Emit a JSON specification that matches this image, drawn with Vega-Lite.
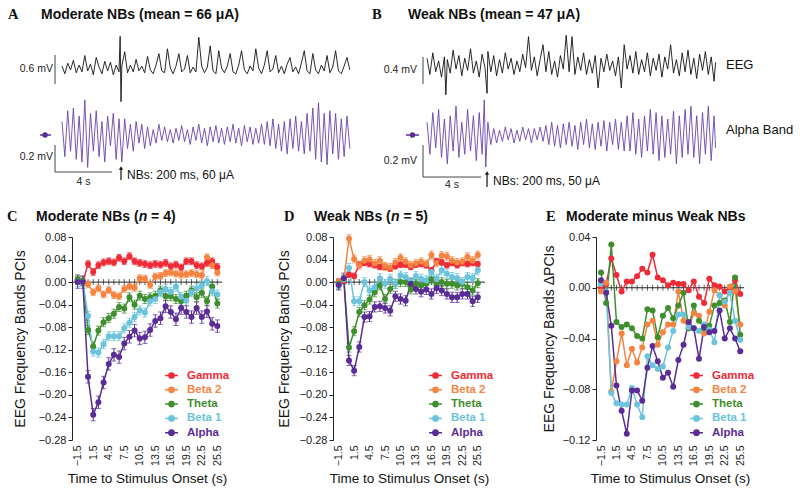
{
  "$schema": "https://vega.github.io/schema/vega-lite/v6.json",
  "padding": {"left": 6, "top": 6, "right": 0, "bottom": 0},
  "background": "white",
  "config": {
    "font": "Liberation Sans",
    "view": {"stroke": null, "fill": null},
    "axis": {"labelColor": "#222", "titleColor": "#111", "domainColor": "#222", "tickColor": "#222", "grid": false, "titleFontWeight": "normal", "labelOverlap": false, "labelFlush": false, "labelBound": false, "tickCount": 30}
  },
  "datasets": {
    "eegA": [{"t":0,"v":0.04},{"t":0.2,"v":-0.12},{"t":0.4,"v":0.1},{"t":0.6,"v":-0.04},{"t":0.8,"v":0.16},{"t":1,"v":-0.1},{"t":1.2,"v":0.06},{"t":1.4,"v":-0.08},{"t":1.6,"v":0.26},{"t":1.8,"v":-0.06},{"t":2,"v":0.08},{"t":2.2,"v":-0.14},{"t":2.4,"v":0.22},{"t":2.6,"v":0.02},{"t":2.8,"v":-0.12},{"t":3,"v":0.14},{"t":3.2,"v":-0.06},{"t":3.4,"v":0.12},{"t":3.6,"v":-0.14},{"t":3.8,"v":0.06},{"t":4,"v":-0.08},{"t":4.08,"v":0.66},{"t":4.14,"v":-0.7},{"t":4.2,"v":0.04},{"t":4.4,"v":0.34},{"t":4.6,"v":-0.1},{"t":4.8,"v":0.06},{"t":5,"v":-0.08},{"t":5.2,"v":0.18},{"t":5.4,"v":-0.06},{"t":5.6,"v":0.04},{"t":5.8,"v":-0.1},{"t":6,"v":0.24},{"t":6.2,"v":-0.04},{"t":6.4,"v":-0.12},{"t":6.6,"v":0.06},{"t":6.8,"v":0.3},{"t":7,"v":-0.06},{"t":7.2,"v":-0.1},{"t":7.4,"v":0.4},{"t":7.6,"v":0},{"t":7.8,"v":-0.12},{"t":8,"v":0.04},{"t":8.2,"v":0.3},{"t":8.4,"v":-0.08},{"t":8.6,"v":-0.02},{"t":8.8,"v":0.26},{"t":9,"v":-0.1},{"t":9.2,"v":0.02},{"t":9.4,"v":-0.08},{"t":9.6,"v":0.64},{"t":9.8,"v":0.04},{"t":10,"v":-0.1},{"t":10.2,"v":0.02},{"t":10.4,"v":0.46},{"t":10.6,"v":-0.06},{"t":10.8,"v":-0.12},{"t":11,"v":0.36},{"t":11.2,"v":0},{"t":11.4,"v":-0.1},{"t":11.6,"v":0.04},{"t":11.8,"v":0.3},{"t":12,"v":-0.08},{"t":12.2,"v":-0.12},{"t":12.4,"v":0.06},{"t":12.6,"v":0.36},{"t":12.8,"v":-0.04},{"t":13,"v":-0.12},{"t":13.2,"v":0.04},{"t":13.4,"v":-0.06},{"t":13.6,"v":0.4},{"t":13.8,"v":0},{"t":14,"v":-0.12},{"t":14.2,"v":0.06},{"t":14.4,"v":0.36},{"t":14.6,"v":-0.08},{"t":14.8,"v":-0.02},{"t":15,"v":0.26},{"t":15.2,"v":-0.1},{"t":15.4,"v":0.04},{"t":15.6,"v":-0.12},{"t":15.8,"v":0.08},{"t":16,"v":0.22},{"t":16.2,"v":-0.08},{"t":16.4,"v":0.02},{"t":16.6,"v":-0.12},{"t":16.8,"v":0.1},{"t":17,"v":0.36},{"t":17.2,"v":-0.06},{"t":17.4,"v":-0.12},{"t":17.6,"v":0.3},{"t":17.8,"v":-0.04},{"t":18,"v":-0.12},{"t":18.2,"v":0.06},{"t":18.4,"v":-0.06},{"t":18.6,"v":0.26},{"t":18.8,"v":-0.1},{"t":19,"v":0.02},{"t":19.2,"v":0.36},{"t":19.4,"v":-0.06},{"t":19.6,"v":-0.12},{"t":19.8,"v":0.04},{"t":20,"v":0.22},{"t":20.2,"v":-0.04}],
    "alphaA": [{"t":0,"v":0.1},{"t":0.2,"v":-0.16},{"t":0.4,"v":0.18},{"t":0.6,"v":-0.12},{"t":0.8,"v":0.2},{"t":1,"v":-0.18},{"t":1.2,"v":0.14},{"t":1.4,"v":-0.2},{"t":1.6,"v":0.26},{"t":1.8,"v":-0.24},{"t":2,"v":0.16},{"t":2.2,"v":-0.12},{"t":2.4,"v":0.18},{"t":2.6,"v":-0.16},{"t":2.8,"v":0.1},{"t":3,"v":-0.2},{"t":3.2,"v":0.14},{"t":3.4,"v":-0.08},{"t":3.6,"v":0.16},{"t":3.8,"v":-0.18},{"t":4,"v":0.12},{"t":4.2,"v":-0.2},{"t":4.4,"v":0.12},{"t":4.6,"v":-0.1},{"t":4.8,"v":0.08},{"t":5,"v":-0.12},{"t":5.2,"v":0.1},{"t":5.4,"v":-0.06},{"t":5.6,"v":0.08},{"t":5.8,"v":-0.1},{"t":6,"v":0.06},{"t":6.2,"v":-0.08},{"t":6.4,"v":0.04},{"t":6.6,"v":-0.06},{"t":6.8,"v":0.08},{"t":7,"v":-0.04},{"t":7.2,"v":0.06},{"t":7.4,"v":-0.05},{"t":7.6,"v":0.04},{"t":7.8,"v":-0.06},{"t":8,"v":0.05},{"t":8.2,"v":-0.04},{"t":8.4,"v":0.07},{"t":8.6,"v":-0.05},{"t":8.8,"v":0.04},{"t":9,"v":-0.07},{"t":9.2,"v":0.06},{"t":9.4,"v":-0.04},{"t":9.6,"v":0.08},{"t":9.8,"v":-0.06},{"t":10,"v":0.05},{"t":10.2,"v":-0.08},{"t":10.4,"v":0.06},{"t":10.6,"v":-0.05},{"t":10.8,"v":0.07},{"t":11,"v":-0.06},{"t":11.2,"v":0.05},{"t":11.4,"v":-0.07},{"t":11.6,"v":0.06},{"t":11.8,"v":-0.05},{"t":12,"v":0.08},{"t":12.2,"v":-0.06},{"t":12.4,"v":0.05},{"t":12.6,"v":-0.08},{"t":12.8,"v":0.07},{"t":13,"v":-0.05},{"t":13.2,"v":0.06},{"t":13.4,"v":-0.07},{"t":13.6,"v":0.05},{"t":13.8,"v":-0.06},{"t":14,"v":0.08},{"t":14.2,"v":-0.07},{"t":14.4,"v":0.1},{"t":14.6,"v":-0.08},{"t":14.8,"v":0.12},{"t":15,"v":-0.1},{"t":15.2,"v":0.08},{"t":15.4,"v":-0.12},{"t":15.6,"v":0.1},{"t":15.8,"v":-0.14},{"t":16,"v":0.12},{"t":16.2,"v":-0.1},{"t":16.4,"v":0.14},{"t":16.6,"v":-0.12},{"t":16.8,"v":0.1},{"t":17,"v":-0.14},{"t":17.2,"v":0.16},{"t":17.4,"v":-0.12},{"t":17.6,"v":0.2},{"t":17.8,"v":-0.18},{"t":18,"v":0.24},{"t":18.2,"v":-0.2},{"t":18.4,"v":0.16},{"t":18.6,"v":-0.22},{"t":18.8,"v":0.18},{"t":19,"v":-0.14},{"t":19.2,"v":0.16},{"t":19.4,"v":-0.18},{"t":19.6,"v":0.12},{"t":19.8,"v":-0.16},{"t":20,"v":0.14},{"t":20.2,"v":-0.1}],
    "eegB": [{"t":0,"v":0.1},{"t":0.2,"v":-0.14},{"t":0.4,"v":0.18},{"t":0.6,"v":-0.1},{"t":0.8,"v":0.06},{"t":1,"v":-0.18},{"t":1.2,"v":0.12},{"t":1.3,"v":-0.44},{"t":1.4,"v":0.08},{"t":1.6,"v":-0.12},{"t":1.8,"v":0.22},{"t":2,"v":-0.06},{"t":2.2,"v":0.14},{"t":2.4,"v":-0.16},{"t":2.6,"v":0.1},{"t":2.8,"v":-0.08},{"t":3,"v":0.24},{"t":3.2,"v":-0.12},{"t":3.4,"v":0.06},{"t":3.6,"v":-0.18},{"t":3.8,"v":0.16},{"t":4,"v":-0.04},{"t":4.14,"v":-0.42},{"t":4.2,"v":0.2},{"t":4.4,"v":-0.1},{"t":4.6,"v":0.14},{"t":4.8,"v":-0.16},{"t":5,"v":0.08},{"t":5.2,"v":-0.12},{"t":5.4,"v":0.18},{"t":5.6,"v":-0.06},{"t":5.8,"v":0.1},{"t":6,"v":-0.14},{"t":6.2,"v":0.06},{"t":6.4,"v":-0.1},{"t":6.6,"v":0.16},{"t":6.8,"v":-0.04},{"t":7,"v":0.42},{"t":7.2,"v":-0.08},{"t":7.4,"v":0.12},{"t":7.6,"v":-0.16},{"t":7.8,"v":0.08},{"t":8,"v":0.3},{"t":8.2,"v":-0.1},{"t":8.4,"v":0.2},{"t":8.6,"v":-0.14},{"t":8.8,"v":0.06},{"t":9,"v":-0.18},{"t":9.2,"v":0.14},{"t":9.4,"v":-0.06},{"t":9.6,"v":0.44},{"t":9.8,"v":-0.1},{"t":10,"v":0.42},{"t":10.2,"v":-0.14},{"t":10.4,"v":0.12},{"t":10.6,"v":-0.08},{"t":10.8,"v":0.18},{"t":11,"v":-0.14},{"t":11.2,"v":0.08},{"t":11.4,"v":-0.12},{"t":11.6,"v":0.14},{"t":11.8,"v":-0.34},{"t":12,"v":0.1},{"t":12.2,"v":-0.1},{"t":12.4,"v":0.16},{"t":12.6,"v":-0.08},{"t":12.8,"v":0.06},{"t":13,"v":-0.16},{"t":13.2,"v":0.12},{"t":13.4,"v":-0.34},{"t":13.6,"v":0.3},{"t":13.8,"v":-0.06},{"t":14,"v":0.14},{"t":14.2,"v":-0.12},{"t":14.4,"v":0.2},{"t":14.6,"v":-0.14},{"t":14.8,"v":0.08},{"t":15,"v":-0.1},{"t":15.2,"v":0.18},{"t":15.4,"v":-0.16},{"t":15.6,"v":0.1},{"t":15.8,"v":-0.08},{"t":16,"v":0.16},{"t":16.2,"v":-0.18},{"t":16.4,"v":0.12},{"t":16.6,"v":-0.06},{"t":16.8,"v":0.3},{"t":17,"v":-0.12},{"t":17.2,"v":0.08},{"t":17.4,"v":-0.16},{"t":17.6,"v":0.18},{"t":17.8,"v":-0.1},{"t":18,"v":0.22},{"t":18.2,"v":-0.14},{"t":18.4,"v":0.1},{"t":18.6,"v":-0.2},{"t":18.8,"v":0.16},{"t":19,"v":-0.08},{"t":19.2,"v":0.2},{"t":19.4,"v":-0.14},{"t":19.6,"v":0.12},{"t":19.8,"v":-0.24},{"t":19.9,"v":0.04}],
    "alphaB": [{"t":0,"v":0.08},{"t":0.2,"v":-0.12},{"t":0.4,"v":0.14},{"t":0.6,"v":-0.08},{"t":0.8,"v":0.16},{"t":1,"v":-0.14},{"t":1.2,"v":0.1},{"t":1.4,"v":-0.18},{"t":1.6,"v":0.12},{"t":1.8,"v":-0.1},{"t":2,"v":0.18},{"t":2.2,"v":-0.14},{"t":2.4,"v":0.08},{"t":2.6,"v":-0.12},{"t":2.8,"v":0.16},{"t":3,"v":-0.1},{"t":3.2,"v":0.12},{"t":3.4,"v":-0.16},{"t":3.6,"v":0.14},{"t":3.8,"v":-0.12},{"t":3.95,"v":0.22},{"t":4.05,"v":-0.2},{"t":4.2,"v":0.08},{"t":4.4,"v":-0.06},{"t":4.6,"v":0.04},{"t":4.8,"v":-0.05},{"t":5,"v":0.03},{"t":5.2,"v":-0.04},{"t":5.4,"v":0.05},{"t":5.6,"v":-0.03},{"t":5.8,"v":0.04},{"t":6,"v":-0.05},{"t":6.2,"v":0.03},{"t":6.4,"v":-0.04},{"t":6.6,"v":0.05},{"t":6.8,"v":-0.03},{"t":7,"v":0.04},{"t":7.2,"v":-0.05},{"t":7.4,"v":0.04},{"t":7.6,"v":-0.03},{"t":7.8,"v":0.05},{"t":8,"v":-0.04},{"t":8.2,"v":0.06},{"t":8.4,"v":-0.06},{"t":8.6,"v":0.08},{"t":8.8,"v":-0.07},{"t":9,"v":0.06},{"t":9.2,"v":-0.08},{"t":9.4,"v":0.07},{"t":9.6,"v":-0.06},{"t":9.8,"v":0.08},{"t":10,"v":-0.07},{"t":10.2,"v":0.06},{"t":10.4,"v":-0.09},{"t":10.6,"v":0.08},{"t":10.8,"v":-0.06},{"t":11,"v":0.1},{"t":11.2,"v":-0.08},{"t":11.4,"v":0.07},{"t":11.6,"v":-0.09},{"t":11.8,"v":0.08},{"t":12,"v":-0.07},{"t":12.2,"v":0.09},{"t":12.4,"v":-0.1},{"t":12.6,"v":0.08},{"t":12.8,"v":-0.06},{"t":13,"v":0.1},{"t":13.2,"v":-0.09},{"t":13.4,"v":0.08},{"t":13.6,"v":-0.1},{"t":13.8,"v":0.12},{"t":14,"v":-0.1},{"t":14.2,"v":0.14},{"t":14.4,"v":-0.12},{"t":14.6,"v":0.1},{"t":14.8,"v":-0.14},{"t":15,"v":0.12},{"t":15.2,"v":-0.1},{"t":15.4,"v":0.16},{"t":15.6,"v":-0.12},{"t":15.8,"v":0.14},{"t":16,"v":-0.16},{"t":16.2,"v":0.12},{"t":16.4,"v":-0.14},{"t":16.6,"v":0.1},{"t":16.8,"v":-0.12},{"t":17,"v":0.15},{"t":17.2,"v":-0.18},{"t":17.4,"v":0.12},{"t":17.6,"v":-0.14},{"t":17.8,"v":0.16},{"t":18,"v":-0.12},{"t":18.2,"v":0.18},{"t":18.4,"v":-0.14},{"t":18.6,"v":0.12},{"t":18.8,"v":-0.18},{"t":19,"v":0.14},{"t":19.2,"v":-0.12},{"t":19.4,"v":0.18},{"t":19.6,"v":-0.16},{"t":19.8,"v":0.12},{"t":19.9,"v":-0.08}],
    "wideC": [
      {"t":-1.5,"Gamma":0.002,"Beta 2":0.003,"Theta":0.005,"Beta 1":0,"Alpha":0},
      {"t":-0.5,"Gamma":0,"Beta 2":0,"Theta":0.002,"Beta 1":0,"Alpha":0},
      {"t":0.5,"Gamma":0.032,"Beta 2":-0.004,"Theta":-0.085,"Beta 1":-0.06,"Alpha":-0.168},
      {"t":1.5,"Gamma":0.018,"Beta 2":-0.018,"Theta":-0.114,"Beta 1":-0.123,"Alpha":-0.235},
      {"t":2.5,"Gamma":0.03,"Beta 2":-0.011,"Theta":-0.086,"Beta 1":-0.125,"Alpha":-0.213},
      {"t":3.5,"Gamma":0.035,"Beta 2":-0.022,"Theta":-0.071,"Beta 1":-0.11,"Alpha":-0.178},
      {"t":4.5,"Gamma":0.037,"Beta 2":-0.014,"Theta":-0.064,"Beta 1":-0.096,"Alpha":-0.145},
      {"t":5.5,"Gamma":0.035,"Beta 2":-0.023,"Theta":-0.056,"Beta 1":-0.096,"Alpha":-0.129},
      {"t":6.5,"Gamma":0.043,"Beta 2":-0.025,"Theta":-0.044,"Beta 1":-0.096,"Alpha":-0.133},
      {"t":7.5,"Gamma":0.037,"Beta 2":-0.012,"Theta":-0.047,"Beta 1":-0.082,"Alpha":-0.109},
      {"t":8.5,"Gamma":0.046,"Beta 2":-0.008,"Theta":-0.027,"Beta 1":-0.072,"Alpha":-0.097},
      {"t":9.5,"Gamma":0.037,"Beta 2":-0.01,"Theta":-0.04,"Beta 1":-0.062,"Alpha":-0.086},
      {"t":10.5,"Gamma":0.034,"Beta 2":0.007,"Theta":-0.024,"Beta 1":-0.05,"Alpha":-0.1},
      {"t":11.5,"Gamma":0.032,"Beta 2":0.006,"Theta":-0.03,"Beta 1":-0.054,"Alpha":-0.098},
      {"t":12.5,"Gamma":0.03,"Beta 2":-0.005,"Theta":-0.027,"Beta 1":-0.034,"Alpha":-0.085},
      {"t":13.5,"Gamma":0.032,"Beta 2":0.01,"Theta":-0.024,"Beta 1":-0.03,"Alpha":-0.069},
      {"t":14.5,"Gamma":0.031,"Beta 2":0.011,"Theta":-0.015,"Beta 1":-0.018,"Alpha":-0.064},
      {"t":15.5,"Gamma":0.034,"Beta 2":0.016,"Theta":-0.025,"Beta 1":-0.012,"Alpha":-0.043},
      {"t":16.5,"Gamma":0.028,"Beta 2":0.017,"Theta":-0.025,"Beta 1":-0.017,"Alpha":-0.053},
      {"t":17.5,"Gamma":0.031,"Beta 2":0.015,"Theta":-0.03,"Beta 1":-0.008,"Alpha":-0.066},
      {"t":18.5,"Gamma":0.026,"Beta 2":0.013,"Theta":-0.034,"Beta 1":-0.026,"Alpha":-0.046},
      {"t":19.5,"Gamma":0.037,"Beta 2":0.014,"Theta":-0.024,"Beta 1":-0.033,"Alpha":-0.053},
      {"t":20.5,"Gamma":0.037,"Beta 2":0.016,"Theta":-0.015,"Beta 1":-0.018,"Alpha":-0.062},
      {"t":21.5,"Gamma":0.03,"Beta 2":0.014,"Theta":-0.027,"Beta 1":-0.011,"Alpha":-0.046},
      {"t":22.5,"Gamma":0.028,"Beta 2":0.012,"Theta":-0.019,"Beta 1":-0.006,"Alpha":-0.062},
      {"t":23.5,"Gamma":0.034,"Beta 2":0.044,"Theta":-0.034,"Beta 1":0.002,"Alpha":-0.052},
      {"t":24.5,"Gamma":0.037,"Beta 2":0.03,"Theta":-0.008,"Beta 1":-0.016,"Alpha":-0.074},
      {"t":25.5,"Gamma":0.027,"Beta 2":0.017,"Theta":-0.038,"Beta 1":-0.022,"Alpha":-0.078}
    ],
    "errC": [{"s":"Gamma","e":0.006},{"s":"Beta 2","e":0.006},{"s":"Theta","e":0.008},{"s":"Beta 1","e":0.008},{"s":"Alpha","e":0.011}],
    "wideD": [
      {"t":-1.5,"Gamma":0,"Beta 2":0,"Theta":-0.003,"Beta 1":-0.005,"Alpha":-0.005},
      {"t":-0.5,"Gamma":0.003,"Beta 2":0.004,"Theta":0.005,"Beta 1":0.005,"Alpha":0.007},
      {"t":0.5,"Gamma":0.013,"Beta 2":0.077,"Theta":-0.116,"Beta 1":0.025,"Alpha":-0.139},
      {"t":1.5,"Gamma":0.011,"Beta 2":0.041,"Theta":-0.087,"Beta 1":-0.034,"Alpha":-0.157},
      {"t":2.5,"Gamma":0.031,"Beta 2":0.03,"Theta":-0.053,"Beta 1":-0.034,"Alpha":-0.115},
      {"t":3.5,"Gamma":0.034,"Beta 2":0.038,"Theta":-0.041,"Beta 1":0,"Alpha":-0.062},
      {"t":4.5,"Gamma":0.032,"Beta 2":0.04,"Theta":-0.031,"Beta 1":-0.015,"Alpha":-0.061},
      {"t":5.5,"Gamma":0.03,"Beta 2":0.033,"Theta":-0.018,"Beta 1":-0.009,"Alpha":-0.044},
      {"t":6.5,"Gamma":0.027,"Beta 2":0.038,"Theta":-0.006,"Beta 1":0.007,"Alpha":-0.043},
      {"t":7.5,"Gamma":0.027,"Beta 2":0.028,"Theta":-0.03,"Beta 1":-0.003,"Alpha":-0.046},
      {"t":8.5,"Gamma":0.024,"Beta 2":0.026,"Theta":-0.012,"Beta 1":0.006,"Alpha":-0.051},
      {"t":9.5,"Gamma":0.028,"Beta 2":0.035,"Theta":-0.003,"Beta 1":-0.003,"Alpha":-0.025},
      {"t":10.5,"Gamma":0.031,"Beta 2":0.043,"Theta":0,"Beta 1":0.012,"Alpha":-0.03},
      {"t":11.5,"Gamma":0.031,"Beta 2":0.036,"Theta":0,"Beta 1":0.009,"Alpha":-0.033},
      {"t":12.5,"Gamma":0.027,"Beta 2":0.03,"Theta":-0.013,"Beta 1":0,"Alpha":-0.003},
      {"t":13.5,"Gamma":0.031,"Beta 2":0.033,"Theta":-0.003,"Beta 1":0.011,"Alpha":-0.012},
      {"t":14.5,"Gamma":0.032,"Beta 2":0.036,"Theta":-0.006,"Beta 1":0.006,"Alpha":-0.017},
      {"t":15.5,"Gamma":0.03,"Beta 2":0.032,"Theta":-0.003,"Beta 1":0.003,"Alpha":-0.013},
      {"t":16.5,"Gamma":0.021,"Beta 2":0.048,"Theta":0.005,"Beta 1":0.018,"Alpha":-0.021},
      {"t":17.5,"Gamma":0.037,"Beta 2":0.034,"Theta":-0.005,"Beta 1":0.006,"Alpha":-0.011},
      {"t":18.5,"Gamma":0.035,"Beta 2":0.047,"Theta":0,"Beta 1":0.021,"Alpha":-0.015},
      {"t":19.5,"Gamma":0.03,"Beta 2":0.046,"Theta":-0.003,"Beta 1":0.015,"Alpha":-0.021},
      {"t":20.5,"Gamma":0.034,"Beta 2":0.038,"Theta":-0.003,"Beta 1":0.009,"Alpha":-0.027},
      {"t":21.5,"Gamma":0.03,"Beta 2":0.035,"Theta":-0.006,"Beta 1":0.007,"Alpha":-0.027},
      {"t":22.5,"Gamma":0.034,"Beta 2":0.036,"Theta":-0.003,"Beta 1":0,"Alpha":-0.021},
      {"t":23.5,"Gamma":0.032,"Beta 2":0.045,"Theta":-0.009,"Beta 1":0.009,"Alpha":-0.021},
      {"t":24.5,"Gamma":0.034,"Beta 2":0.038,"Theta":-0.015,"Beta 1":0.007,"Alpha":-0.034},
      {"t":25.5,"Gamma":0.032,"Beta 2":0.048,"Theta":-0.002,"Beta 1":0.021,"Alpha":-0.027}
    ],
    "errD": [{"s":"Gamma","e":0.005},{"s":"Beta 2","e":0.007},{"s":"Theta","e":0.008},{"s":"Beta 1","e":0.008},{"s":"Alpha","e":0.009}],
    "wideE": [
      {"t":-1.5,"Gamma":0,"Beta 2":-0.003,"Theta":0.012,"Beta 1":0.003,"Alpha":0.006},
      {"t":-0.5,"Gamma":0.003,"Beta 2":0.004,"Theta":-0.012,"Beta 1":-0.003,"Alpha":-0.004},
      {"t":0.5,"Gamma":0.023,"Beta 2":-0.082,"Theta":0.034,"Beta 1":-0.083,"Alpha":-0.03},
      {"t":1.5,"Gamma":0.01,"Beta 2":-0.058,"Theta":-0.027,"Beta 1":-0.091,"Alpha":-0.077},
      {"t":2.5,"Gamma":-0.003,"Beta 2":-0.036,"Theta":-0.031,"Beta 1":-0.092,"Alpha":-0.097},
      {"t":3.5,"Gamma":0.005,"Beta 2":-0.061,"Theta":-0.029,"Beta 1":-0.092,"Alpha":-0.115},
      {"t":4.5,"Gamma":0.005,"Beta 2":-0.048,"Theta":-0.032,"Beta 1":-0.079,"Alpha":-0.081},
      {"t":5.5,"Gamma":0.009,"Beta 2":-0.059,"Theta":-0.038,"Beta 1":-0.092,"Alpha":-0.081},
      {"t":6.5,"Gamma":0.015,"Beta 2":-0.047,"Theta":-0.04,"Beta 1":-0.102,"Alpha":-0.089},
      {"t":7.5,"Gamma":0.012,"Beta 2":-0.029,"Theta":-0.017,"Beta 1":-0.054,"Alpha":-0.063},
      {"t":8.5,"Gamma":0.026,"Beta 2":-0.026,"Theta":-0.018,"Beta 1":-0.061,"Alpha":-0.046},
      {"t":9.5,"Gamma":0.008,"Beta 2":-0.045,"Theta":-0.039,"Beta 1":-0.064,"Alpha":-0.058},
      {"t":10.5,"Gamma":0.006,"Beta 2":-0.035,"Theta":-0.022,"Beta 1":-0.062,"Alpha":-0.071},
      {"t":11.5,"Gamma":0.002,"Beta 2":-0.029,"Theta":-0.016,"Beta 1":-0.047,"Alpha":-0.067},
      {"t":12.5,"Gamma":0.004,"Beta 2":-0.029,"Theta":-0.024,"Beta 1":-0.034,"Alpha":-0.078},
      {"t":13.5,"Gamma":0.003,"Beta 2":-0.003,"Theta":-0.014,"Beta 1":-0.021,"Alpha":-0.057},
      {"t":14.5,"Gamma":0.003,"Beta 2":-0.026,"Theta":-0.004,"Beta 1":-0.021,"Alpha":-0.045},
      {"t":15.5,"Gamma":-0.002,"Beta 2":-0.032,"Theta":-0.032,"Beta 1":-0.031,"Alpha":-0.027},
      {"t":16.5,"Gamma":0.005,"Beta 2":-0.02,"Theta":-0.014,"Beta 1":-0.032,"Alpha":-0.032},
      {"t":17.5,"Gamma":-0.007,"Beta 2":-0.022,"Theta":-0.026,"Beta 1":-0.034,"Alpha":-0.056},
      {"t":18.5,"Gamma":-0.012,"Beta 2":-0.036,"Theta":-0.032,"Beta 1":-0.029,"Alpha":-0.031},
      {"t":19.5,"Gamma":0.007,"Beta 2":-0.019,"Theta":-0.03,"Beta 1":-0.033,"Alpha":-0.035},
      {"t":20.5,"Gamma":0.002,"Beta 2":-0.002,"Theta":-0.014,"Beta 1":-0.043,"Alpha":-0.034},
      {"t":21.5,"Gamma":0.001,"Beta 2":-0.006,"Theta":-0.012,"Beta 1":-0.006,"Alpha":-0.018},
      {"t":22.5,"Gamma":-0.003,"Beta 2":-0.014,"Theta":-0.01,"Beta 1":-0.011,"Alpha":-0.04},
      {"t":23.5,"Gamma":0,"Beta 2":0.001,"Theta":-0.027,"Beta 1":-0.004,"Alpha":-0.032},
      {"t":24.5,"Gamma":0.006,"Beta 2":-0.003,"Theta":0.008,"Beta 1":-0.026,"Alpha":-0.04},
      {"t":25.5,"Gamma":-0.005,"Beta 2":-0.029,"Theta":-0.037,"Beta 1":-0.041,"Alpha":-0.05}
    ]
  },
  "spacing": 111,
  "bounds": "flush",
  "resolve": {"scale": {"color": "independent"}, "legend": {"color": "independent"}},
  "hconcat": [
    {
      "width": 150, "height": 203,
      "resolve": {"scale": {"x": "independent", "y": "independent"}},
      "layer": [
        {
          "data": {"name": "wideC"},
          "transform": [
            {"fold": ["Gamma", "Beta 2", "Theta", "Beta 1", "Alpha"], "as": ["s", "v"]},
            {"lookup": "s", "from": {"data": {"name": "errC"}, "key": "s", "fields": ["e"]}}
          ],
          "layer": [
            {"data": {"values": [{}]}, "mark": {"type": "rule", "color": "#222", "strokeWidth": 1}, "encoding": {"y": {"datum": 0}}},
            {"transform": [{"filter": "datum.s === 'Gamma'"}], "mark": {"type": "tick", "orient": "vertical", "color": "#222", "size": 6, "thickness": 1}, "encoding": {"x": {"field": "t", "type": "quantitative"}, "y": {"datum": 0}}},
            {
              "encoding": {
                "x": {"field": "t", "type": "quantitative", "scale": {"domain": [-2.6, 26.4], "nice": false, "zero": false}, "axis": {"values": [-1.5, 1.5, 4.5, 7.5, 10.5, 13.5, 16.5, 19.5, 22.5, 25.5], "tickCount": 30, "format": ".1f", "labelAngle": -90, "labelFontSize": 10.5, "labelPadding": 5, "labelOverlap": false, "ticks": false, "domain": false, "title": "Time to Stimulus Onset (s)", "titleFontSize": 13.5, "titlePadding": 6}},
                "y": {"field": "v", "type": "quantitative", "scale": {"domain": [-0.28, 0.08], "nice": false, "zero": false}, "axis": {"values": [-0.28, -0.24, -0.2, -0.16, -0.12, -0.08, -0.04, 0, 0.04, 0.08], "tickCount": 30, "format": ".2f", "labelOverlap": false, "title": "EEG Frequency Bands PCIs", "titleFontSize": 14, "titlePadding": 11, "labelFontSize": 11, "tickSize": 4, "labelPadding": 2}},
                "color": {"field": "s", "type": "nominal", "scale": {"domain": ["Gamma", "Beta 2", "Theta", "Beta 1", "Alpha"], "range": ["#ee2b36", "#f58442", "#3f8e2f", "#6bc4dc", "#5a2d96"]},
                  "legend": {"orient": "none", "legendX": 92, "legendY": 131, "title": null, "symbolType": "M-1,0H1M-0.4,0A0.4,0.4,0,1,1,0.4,0A0.4,0.4,0,1,1,-0.4,0Z", "symbolSize": 169, "symbolStrokeWidth": 1.5, "symbolOpacity": 1, "symbolStrokeColor": {"expr": "datum.label === 'Gamma' ? '#ee2b36' : datum.label === 'Beta 2' ? '#f58442' : datum.label === 'Theta' ? '#3f8e2f' : datum.label === 'Beta 1' ? '#6bc4dc' : '#5a2d96'"}, "symbolFillColor": {"expr": "datum.label === 'Gamma' ? '#ee2b36' : datum.label === 'Beta 2' ? '#f58442' : datum.label === 'Theta' ? '#3f8e2f' : datum.label === 'Beta 1' ? '#6bc4dc' : '#5a2d96'"}, "labelFontSize": 11.5, "labelFontWeight": "bold", "labelColor": {"expr": "datum.label === 'Gamma' ? '#ee2b36' : datum.label === 'Beta 2' ? '#f58442' : datum.label === 'Theta' ? '#3f8e2f' : datum.label === 'Beta 1' ? '#6bc4dc' : '#5a2d96'"}, "rowPadding": 0.3, "labelOffset": 8, "padding": 0}}
              },
              "layer": [
                {"mark": {"type": "errorbar", "thickness": 1, "ticks": {"size": 5}}, "encoding": {"yError": {"field": "e"}}},
                {"mark": {"type": "line", "strokeWidth": 1.5}},
                {"mark": {"type": "point", "filled": true, "size": 36, "opacity": 1}}
              ]
            },
            {"data": {"values": [{}]}, "mark": {"type": "text", "text": "C", "align": "left", "baseline": "middle", "fontSize": 14.5, "font": "Liberation Serif", "fontWeight": "bold", "color": "#111"}, "encoding": {"x": {"datum": -15.17}, "y": {"datum": 0.1155}}},
            {"data": {"values": [{}]}, "mark": {"type": "text", "text": "Moderate NBs (", "align": "left", "baseline": "middle", "fontSize": 14, "fontWeight": "bold", "color": "#111"}, "encoding": {"x": {"datum": -9.56}, "y": {"datum": 0.1155}}},
            {"data": {"values": [{}]}, "mark": {"type": "text", "text": "n", "align": "left", "baseline": "middle", "dx": 102.7, "fontSize": 14, "fontWeight": "bold", "fontStyle": "italic", "color": "#111"}, "encoding": {"x": {"datum": -9.56}, "y": {"datum": 0.1155}}},
            {"data": {"values": [{}]}, "mark": {"type": "text", "text": "= 4)", "align": "left", "baseline": "middle", "dx": 115.1, "fontSize": 14, "fontWeight": "bold", "color": "#111"}, "encoding": {"x": {"datum": -9.56}, "y": {"datum": 0.1155}}}
          ]
        },
        {"layer": [
          {"data": {"name": "eegA"}, "mark": {"type": "line", "color": "#111", "strokeWidth": 0.9}, "encoding": {"x": {"field": "t", "type": "quantitative", "scale": {"domain": [-3.86, 51.86], "range": [-65, 729], "nice": false, "zero": false}, "axis": null}, "y": {"field": "v", "type": "quantitative", "scale": {"domain": [-2.583, 1.375], "range": [-45, -235], "nice": false, "zero": false}, "axis": null}}},
          {"data": {"values": [{}]}, "mark": {"type": "rule", "color": "#444", "strokeWidth": 1}, "encoding": {"x": {"datum": -0.49, "axis": null}, "y": {"datum": 0.271, "axis": null}, "y2": {"datum": -0.333}}},
          {"data": {"values": [{}]}, "mark": {"type": "text", "text": "0.6 mV", "align": "right", "baseline": "middle", "fontSize": 10.5, "color": "#222"}, "encoding": {"x": {"datum": -0.63, "axis": null}, "y": {"datum": -0.02, "axis": null}}},
          {"data": {"values": [{}]}, "mark": {"type": "text", "text": "A", "align": "left", "baseline": "middle", "fontSize": 14.5, "font": "Liberation Serif", "fontWeight": "bold", "color": "#111"}, "encoding": {"x": {"datum": -3.79, "axis": null}, "y": {"datum": 1.104, "axis": null}}},
          {"data": {"values": [{}]}, "mark": {"type": "text", "text": "Moderate NBs (mean = 66 μA)", "align": "left", "baseline": "middle", "fontSize": 14, "fontWeight": "bold", "color": "#111"}, "encoding": {"x": {"datum": -1.474, "axis": null}, "y": {"datum": 1.104, "axis": null}}}
        ]},
        {"layer": [
          {"data": {"name": "alphaA"}, "mark": {"type": "line", "color": "#6a44aa", "strokeWidth": 0.9}, "encoding": {"x": {"field": "t", "type": "quantitative", "scale": {"domain": [-3.86, 51.86], "range": [-65, 729], "nice": false, "zero": false}, "axis": null}, "y": {"field": "v", "type": "quantitative", "scale": {"domain": [-0.422, 0.985], "range": [-45, -235], "nice": false, "zero": false}, "axis": null}}},
          {"data": {"values": [{}]}, "mark": {"type": "rule", "color": "#5a2d96", "strokeWidth": 1.5}, "encoding": {"x": {"datum": -1.54, "axis": null}, "x2": {"datum": -0.77}, "y": {"datum": 0, "axis": null}}},
          {"data": {"values": [{}]}, "mark": {"type": "point", "shape": "circle", "filled": true, "color": "#5a2d96", "size": 30, "opacity": 1}, "encoding": {"x": {"datum": -1.19, "axis": null}, "y": {"datum": 0, "axis": null}}},
          {"data": {"values": [{}]}, "mark": {"type": "rule", "color": "#444", "strokeWidth": 1}, "encoding": {"x": {"datum": -0.49, "axis": null}, "y": {"datum": -0.074, "axis": null}, "y2": {"datum": -0.274}}},
          {"data": {"values": [{}]}, "mark": {"type": "rule", "color": "#444", "strokeWidth": 1}, "encoding": {"x": {"datum": -0.49, "axis": null}, "x2": {"datum": 3.51}, "y": {"datum": -0.274, "axis": null}}},
          {"data": {"values": [{}]}, "mark": {"type": "text", "text": "0.2 mV", "align": "right", "baseline": "middle", "fontSize": 10.5, "color": "#222"}, "encoding": {"x": {"datum": -0.63, "axis": null}, "y": {"datum": -0.163, "axis": null}}},
          {"data": {"values": [{}]}, "mark": {"type": "text", "text": "4 s", "align": "center", "baseline": "middle", "fontSize": 10.5, "color": "#222"}, "encoding": {"x": {"datum": 1.51, "axis": null}, "y": {"datum": -0.348, "axis": null}}},
          {"data": {"values": [{}]}, "mark": {"type": "rule", "color": "#111", "strokeWidth": 1.2}, "encoding": {"x": {"datum": 4.14, "axis": null}, "y": {"datum": -0.333, "axis": null}, "y2": {"datum": -0.252}}},
          {"data": {"values": [{}]}, "mark": {"type": "point", "shape": "triangle-up", "filled": true, "color": "#111", "size": 18, "opacity": 1}, "encoding": {"x": {"datum": 4.14, "axis": null}, "y": {"datum": -0.244, "axis": null}}},
          {"data": {"values": [{}]}, "mark": {"type": "text", "text": "NBs: 200 ms, 60 μA", "align": "left", "baseline": "middle", "fontSize": 12, "color": "#111"}, "encoding": {"x": {"datum": 4.56, "axis": null}, "y": {"datum": -0.296, "axis": null}}}
        ]},
        {"layer": [
          {"data": {"name": "eegB"}, "mark": {"type": "line", "color": "#111", "strokeWidth": 0.9}, "encoding": {"x": {"field": "t", "type": "quantitative", "scale": {"domain": [-28.966, 25.793], "range": [-65, 729], "nice": false, "zero": false}, "axis": null}, "y": {"field": "v", "type": "quantitative", "scale": {"domain": [-1.881, 0.933], "range": [-45, -235], "nice": false, "zero": false}, "axis": null}}},
          {"data": {"values": [{}]}, "mark": {"type": "rule", "color": "#444", "strokeWidth": 1}, "encoding": {"x": {"datum": -0.276, "axis": null}, "y": {"datum": 0.119, "axis": null}, "y2": {"datum": -0.281}}},
          {"data": {"values": [{}]}, "mark": {"type": "text", "text": "0.4 mV", "align": "right", "baseline": "middle", "fontSize": 10.5, "color": "#222"}, "encoding": {"x": {"datum": -0.69, "axis": null}, "y": {"datum": -0.074, "axis": null}}},
          {"data": {"values": [{}]}, "mark": {"type": "text", "text": "EEG", "align": "left", "baseline": "middle", "fontSize": 13, "color": "#111"}, "encoding": {"x": {"datum": 20.62, "axis": null}, "y": {"datum": 0, "axis": null}}},
          {"data": {"values": [{}]}, "mark": {"type": "text", "text": "B", "align": "left", "baseline": "middle", "fontSize": 14.5, "font": "Liberation Serif", "fontWeight": "bold", "color": "#111"}, "encoding": {"x": {"datum": -3.79, "axis": null}, "y": {"datum": 0.741, "axis": null}}},
          {"data": {"values": [{}]}, "mark": {"type": "text", "text": "Weak NBs (mean = 47 μA)", "align": "left", "baseline": "middle", "fontSize": 14, "fontWeight": "bold", "color": "#111"}, "encoding": {"x": {"datum": -1.31, "axis": null}, "y": {"datum": 0.741, "axis": null}}}
        ]},
        {"layer": [
          {"data": {"name": "alphaB"}, "mark": {"type": "line", "color": "#6a44aa", "strokeWidth": 0.9}, "encoding": {"x": {"field": "t", "type": "quantitative", "scale": {"domain": [-28.966, 25.793], "range": [-65, 729], "nice": false, "zero": false}, "axis": null}, "y": {"field": "v", "type": "quantitative", "scale": {"domain": [-0.356, 0.831], "range": [-45, -235], "nice": false, "zero": false}, "axis": null}}},
          {"data": {"values": [{}]}, "mark": {"type": "rule", "color": "#5a2d96", "strokeWidth": 1.5}, "encoding": {"x": {"datum": -1.448, "axis": null}, "x2": {"datum": -0.552}, "y": {"datum": 0, "axis": null}}},
          {"data": {"values": [{}]}, "mark": {"type": "point", "shape": "circle", "filled": true, "color": "#5a2d96", "size": 30, "opacity": 1}, "encoding": {"x": {"datum": -1.0, "axis": null}, "y": {"datum": 0, "axis": null}}},
          {"data": {"values": [{}]}, "mark": {"type": "rule", "color": "#444", "strokeWidth": 1}, "encoding": {"x": {"datum": -0.276, "axis": null}, "y": {"datum": -0.0625, "axis": null}, "y2": {"datum": -0.2625}}},
          {"data": {"values": [{}]}, "mark": {"type": "rule", "color": "#444", "strokeWidth": 1}, "encoding": {"x": {"datum": -0.276, "axis": null}, "x2": {"datum": 3.724}, "y": {"datum": -0.2625, "axis": null}}},
          {"data": {"values": [{}]}, "mark": {"type": "text", "text": "0.2 mV", "align": "right", "baseline": "middle", "fontSize": 10.5, "color": "#222"}, "encoding": {"x": {"datum": -0.69, "axis": null}, "y": {"datum": -0.1625, "axis": null}}},
          {"data": {"values": [{}]}, "mark": {"type": "text", "text": "4 s", "align": "center", "baseline": "middle", "fontSize": 10.5, "color": "#222"}, "encoding": {"x": {"datum": 1.72, "axis": null}, "y": {"datum": -0.3125, "axis": null}}},
          {"data": {"values": [{}]}, "mark": {"type": "rule", "color": "#111", "strokeWidth": 1.2}, "encoding": {"x": {"datum": 4.14, "axis": null}, "y": {"datum": -0.325, "axis": null}, "y2": {"datum": -0.245}}},
          {"data": {"values": [{}]}, "mark": {"type": "point", "shape": "triangle-up", "filled": true, "color": "#111", "size": 18, "opacity": 1}, "encoding": {"x": {"datum": 4.14, "axis": null}, "y": {"datum": -0.2375, "axis": null}}},
          {"data": {"values": [{}]}, "mark": {"type": "text", "text": "NBs: 200 ms, 50 μA", "align": "left", "baseline": "middle", "fontSize": 12, "color": "#111"}, "encoding": {"x": {"datum": 4.55, "axis": null}, "y": {"datum": -0.2875, "axis": null}}},
          {"data": {"values": [{}]}, "mark": {"type": "text", "text": "Alpha Band", "align": "left", "baseline": "middle", "fontSize": 13, "color": "#111"}, "encoding": {"x": {"datum": 20.62, "axis": null}, "y": {"datum": 0.031, "axis": null}}}
        ]}
      ]
    },
    {
      "width": 152, "height": 203,
      "data": {"name": "wideD"},
      "transform": [
        {"fold": ["Gamma", "Beta 2", "Theta", "Beta 1", "Alpha"], "as": ["s", "v"]},
        {"lookup": "s", "from": {"data": {"name": "errD"}, "key": "s", "fields": ["e"]}}
      ],
      "layer": [
        {"data": {"values": [{}]}, "mark": {"type": "rule", "color": "#222", "strokeWidth": 1}, "encoding": {"y": {"datum": 0}}},
        {"transform": [{"filter": "datum.s === 'Gamma'"}], "mark": {"type": "tick", "orient": "vertical", "color": "#222", "size": 6, "thickness": 1}, "encoding": {"x": {"field": "t", "type": "quantitative"}, "y": {"datum": 0}}},
        {
          "encoding": {
            "x": {"field": "t", "type": "quantitative", "scale": {"domain": [-2.6, 26.9], "nice": false, "zero": false}, "axis": {"values": [-1.5, 1.5, 4.5, 7.5, 10.5, 13.5, 16.5, 19.5, 22.5, 25.5], "tickCount": 30, "format": ".1f", "labelAngle": -90, "labelFontSize": 10.5, "labelPadding": 5, "labelOverlap": false, "ticks": false, "domain": false, "title": "Time to Stimulus Onset (s)", "titleFontSize": 13.5, "titlePadding": 6}},
            "y": {"field": "v", "type": "quantitative", "scale": {"domain": [-0.28, 0.08], "nice": false, "zero": false}, "axis": {"values": [-0.28, -0.24, -0.2, -0.16, -0.12, -0.08, -0.04, 0, 0.04, 0.08], "tickCount": 30, "format": ".2f", "labelOverlap": false, "title": "EEG Frequency Bands PCIs", "titleFontSize": 14, "titlePadding": 8, "labelFontSize": 11, "tickSize": 4, "labelPadding": 2}},
            "color": {"field": "s", "type": "nominal", "scale": {"domain": ["Gamma", "Beta 2", "Theta", "Beta 1", "Alpha"], "range": ["#ee2b36", "#f58442", "#3f8e2f", "#6bc4dc", "#5a2d96"]},
              "legend": {"orient": "none", "legendX": 95, "legendY": 131, "title": null, "symbolType": "M-1,0H1M-0.4,0A0.4,0.4,0,1,1,0.4,0A0.4,0.4,0,1,1,-0.4,0Z", "symbolSize": 169, "symbolStrokeWidth": 1.5, "symbolOpacity": 1, "symbolStrokeColor": {"expr": "datum.label === 'Gamma' ? '#ee2b36' : datum.label === 'Beta 2' ? '#f58442' : datum.label === 'Theta' ? '#3f8e2f' : datum.label === 'Beta 1' ? '#6bc4dc' : '#5a2d96'"}, "symbolFillColor": {"expr": "datum.label === 'Gamma' ? '#ee2b36' : datum.label === 'Beta 2' ? '#f58442' : datum.label === 'Theta' ? '#3f8e2f' : datum.label === 'Beta 1' ? '#6bc4dc' : '#5a2d96'"}, "labelFontSize": 11.5, "labelFontWeight": "bold", "labelColor": {"expr": "datum.label === 'Gamma' ? '#ee2b36' : datum.label === 'Beta 2' ? '#f58442' : datum.label === 'Theta' ? '#3f8e2f' : datum.label === 'Beta 1' ? '#6bc4dc' : '#5a2d96'"}, "rowPadding": 0.3, "labelOffset": 8, "padding": 0}}
          },
          "layer": [
            {"mark": {"type": "errorbar", "thickness": 1, "ticks": {"size": 5}}, "encoding": {"yError": {"field": "e"}}},
            {"mark": {"type": "line", "strokeWidth": 1.5}},
            {"mark": {"type": "point", "filled": true, "size": 36, "opacity": 1}}
          ]
        },
        {"data": {"values": [{}]}, "mark": {"type": "text", "text": "D", "align": "left", "baseline": "middle", "fontSize": 14.5, "font": "Liberation Serif", "fontWeight": "bold", "color": "#111"}, "encoding": {"x": {"datum": -12.11}, "y": {"datum": 0.1155}}},
        {"data": {"values": [{}]}, "mark": {"type": "text", "text": "Weak NBs (", "align": "left", "baseline": "middle", "fontSize": 14, "fontWeight": "bold", "color": "#111"}, "encoding": {"x": {"datum": -6.29}, "y": {"datum": 0.1155}}},
        {"data": {"values": [{}]}, "mark": {"type": "text", "text": "n", "align": "left", "baseline": "middle", "dx": 77.0, "fontSize": 14, "fontWeight": "bold", "fontStyle": "italic", "color": "#111"}, "encoding": {"x": {"datum": -6.29}, "y": {"datum": 0.1155}}},
        {"data": {"values": [{}]}, "mark": {"type": "text", "text": "= 5)", "align": "left", "baseline": "middle", "dx": 89.5, "fontSize": 14, "fontWeight": "bold", "color": "#111"}, "encoding": {"x": {"datum": -6.29}, "y": {"datum": 0.1155}}}
      ]
    },
    {
      "width": 148, "height": 203,
      "data": {"name": "wideE"},
      "transform": [
        {"fold": ["Gamma", "Beta 2", "Theta", "Beta 1", "Alpha"], "as": ["s", "v"]}
      ],
      "layer": [
        {"data": {"values": [{}]}, "mark": {"type": "rule", "color": "#222", "strokeWidth": 1}, "encoding": {"y": {"datum": 0}}},
        {"transform": [{"filter": "datum.s === 'Gamma'"}], "mark": {"type": "tick", "orient": "vertical", "color": "#222", "size": 6, "thickness": 1}, "encoding": {"x": {"field": "t", "type": "quantitative"}, "y": {"datum": 0}}},
        {
          "encoding": {
            "x": {"field": "t", "type": "quantitative", "scale": {"domain": [-2.47, 26.23], "nice": false, "zero": false}, "axis": {"values": [-1.5, 1.5, 4.5, 7.5, 10.5, 13.5, 16.5, 19.5, 22.5, 25.5], "tickCount": 30, "format": ".1f", "labelAngle": -90, "labelFontSize": 10.5, "labelPadding": 5, "labelOverlap": false, "ticks": false, "domain": false, "title": "Time to Stimulus Onset (s)", "titleFontSize": 13.5, "titlePadding": 6}},
            "y": {"field": "v", "type": "quantitative", "scale": {"domain": [-0.12, 0.04], "nice": false, "zero": false}, "axis": {"values": [-0.12, -0.08, -0.04, 0, 0.04], "tickCount": 30, "format": ".2f", "labelOverlap": false, "title": "EEG Frequency Bands ΔPCIs", "titleFontSize": 14, "titlePadding": 6, "labelFontSize": 11, "tickSize": 4, "labelPadding": 2}},
            "color": {"field": "s", "type": "nominal", "scale": {"domain": ["Gamma", "Beta 2", "Theta", "Beta 1", "Alpha"], "range": ["#ee2b36", "#f58442", "#3f8e2f", "#6bc4dc", "#5a2d96"]},
              "legend": {"orient": "none", "legendX": 93, "legendY": 131, "title": null, "symbolType": "M-1,0H1M-0.4,0A0.4,0.4,0,1,1,0.4,0A0.4,0.4,0,1,1,-0.4,0Z", "symbolSize": 169, "symbolStrokeWidth": 1.5, "symbolOpacity": 1, "symbolStrokeColor": {"expr": "datum.label === 'Gamma' ? '#ee2b36' : datum.label === 'Beta 2' ? '#f58442' : datum.label === 'Theta' ? '#3f8e2f' : datum.label === 'Beta 1' ? '#6bc4dc' : '#5a2d96'"}, "symbolFillColor": {"expr": "datum.label === 'Gamma' ? '#ee2b36' : datum.label === 'Beta 2' ? '#f58442' : datum.label === 'Theta' ? '#3f8e2f' : datum.label === 'Beta 1' ? '#6bc4dc' : '#5a2d96'"}, "labelFontSize": 11.5, "labelFontWeight": "bold", "labelColor": {"expr": "datum.label === 'Gamma' ? '#ee2b36' : datum.label === 'Beta 2' ? '#f58442' : datum.label === 'Theta' ? '#3f8e2f' : datum.label === 'Beta 1' ? '#6bc4dc' : '#5a2d96'"}, "rowPadding": 0.3, "labelOffset": 8, "padding": 0}}
          },
          "layer": [
            {"mark": {"type": "line", "strokeWidth": 1.5}},
            {"mark": {"type": "point", "filled": true, "size": 36, "opacity": 1}}
          ]
        },
        {"data": {"values": [{}]}, "mark": {"type": "text", "text": "E", "align": "left", "baseline": "middle", "fontSize": 14.5, "font": "Liberation Serif", "fontWeight": "bold", "color": "#111"}, "encoding": {"x": {"datum": -12.17}, "y": {"datum": 0.0558}}},
        {"data": {"values": [{}]}, "mark": {"type": "text", "text": "Moderate minus Weak NBs", "align": "left", "baseline": "middle", "fontSize": 14, "fontWeight": "bold", "color": "#111"}, "encoding": {"x": {"datum": -8.29}, "y": {"datum": 0.0558}}}
      ]
    }
  ]
}
